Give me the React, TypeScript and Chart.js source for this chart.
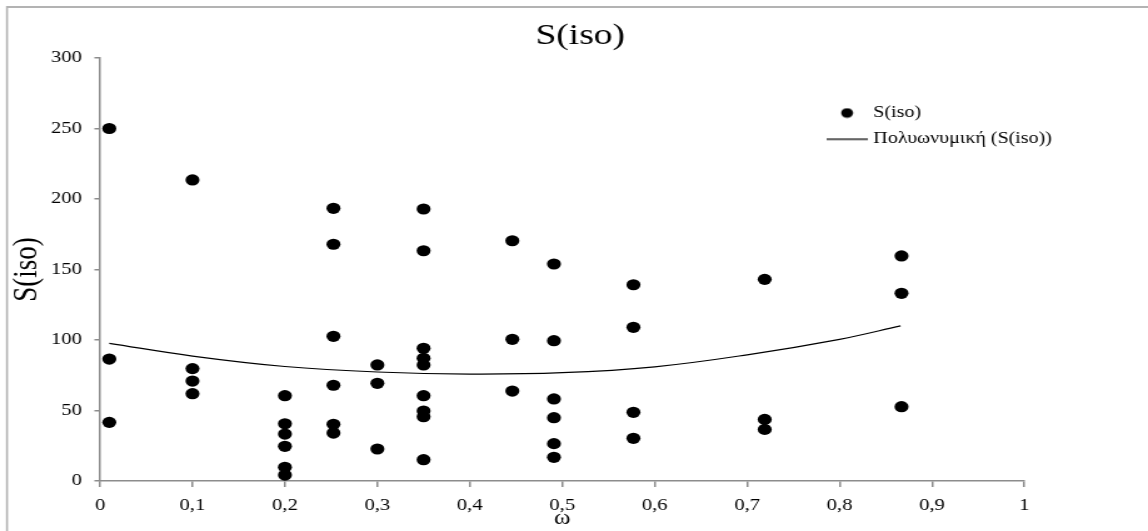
import React, { useEffect, useRef } from 'react';
import { Chart, registerables } from 'chart.js';

Chart.register(...registerables);

// ---- data ----
const omegaValues = [
  0.01, 0.01, 0.01,
  0.1, 0.1, 0.1, 0.1,
  0.2, 0.2, 0.2, 0.2, 0.2, 0.2,
  0.2525, 0.2525, 0.2525, 0.2525, 0.2525, 0.2525,
  0.3, 0.3, 0.3,
  0.35, 0.35, 0.35, 0.35, 0.35, 0.35, 0.35, 0.35, 0.35,
  0.446, 0.446, 0.446,
  0.491, 0.491, 0.491, 0.491, 0.491, 0.491,
  0.577, 0.577, 0.577, 0.577,
  0.719, 0.719, 0.719,
  0.867, 0.867, 0.867,
];
const sIsoValues = [
  250, 86.5, 41.6,
  213.5, 79.7, 70.9, 61.9,
  60.5, 40.6, 33.3, 24.6, 9.7, 4.2,
  193.4, 167.9, 102.6, 67.9, 40.2, 34,
  82.3, 69.3, 22.7,
  192.9, 163.3, 94.1, 87, 82.3, 60.5, 49.6, 45.6, 15.1,
  170.4, 100.5, 63.8,
  153.9, 99.5, 58.2, 44.9, 26.5, 16.8,
  139.2, 109, 48.7, 30.3,
  143, 43.7, 36.6,
  159.6, 133.1, 52.7,
];
// polynomial trend line
const trendOmega = [0.01, 0.1, 0.2, 0.3, 0.4, 0.5, 0.6, 0.7, 0.8, 0.866];
const trendS = [97.6, 88.6, 81.2, 77.3, 75.8, 76.8, 81, 89.5, 100.5, 110];

const xTickLabels = ['0', '0,1', '0,2', '0,3', '0,4', '0,5', '0,6', '0,7', '0,8', '0,9', '1'];
const yTickLabels = ['0', '50', '100', '150', '200', '250', '300'];

const chartTitle = 'S(iso)';
const xTitle = 'ω';
const yTitle = 'S(iso)';
const seriesLabel = 'S(iso)';
const trendLabel = 'Πολυωνυμική (S(iso))';

// ---- geometry ----
const W = 1148;
const H = 531;
const STRETCH = 1.25; // the reference is drawn horizontally stretched
const IW = Math.round(W / STRETCH);
const sx = (px: number) => px / STRETCH; // screen x -> canvas x

const FONT = "'Liberation Serif', 'Times New Roman', Times, serif";

export default function App() {
  const ref = useRef<HTMLCanvasElement>(null);

  useEffect(() => {
    const canvas = ref.current;
    if (!canvas) return;

    const dot = document.createElement('canvas');
    dot.width = 11;
    dot.height = 11;
    {
      const c = dot.getContext('2d')!;
      c.fillStyle = '#000';
      c.beginPath();
      c.arc(5.5, 5.5, 4.8, 0, Math.PI * 2);
      c.fill();
    }
    const seg = document.createElement('canvas');
    seg.width = Math.round(sx(41));
    seg.height = 3;
    {
      const c = seg.getContext('2d')!;
      c.fillStyle = '#000';
      c.fillRect(0, 1, seg.width, 1.2);
    }

    const points = omegaValues.map((x, i) => ({ x, y: sIsoValues[i] }));
    const trend = trendOmega.map((x, i) => ({ x, y: trendS[i] }));

    const chartLeft = sx(100);
    const chartRight = sx(1024);

    const layoutPlugin = {
      id: 'layoutTweaks',
      afterLayout(chart: any) {
        const lg = chart.legend;
        if (lg) {
          const pad = 10;
          const boxW = 26;
          const centerX = sx(846.7);
          lg.left = centerX - boxW / 2 - pad;
          lg.top = 113 - 8 - pad;
          lg.right = lg.left + lg.width;
          lg.bottom = lg.top + lg.height;
        }
        const tb = chart.titleBlock;
        if (tb) {
          const c = sx(580);
          tb.left = 0;
          tb.right = 2 * c;
        }
      },
      beforeDraw(chart: any) {
        const ctx = chart.ctx;
        ctx.save();
        ctx.strokeStyle = '#b3b3b3';
        ctx.lineWidth = 2;
        ctx.beginPath();
        ctx.moveTo(sx(7), 7);
        ctx.lineTo(IW + 2, 7);
        ctx.stroke();
        ctx.lineWidth = 1.6;
        ctx.beginPath();
        ctx.moveTo(sx(7), 6);
        ctx.lineTo(sx(7), H + 2);
        ctx.stroke();
        ctx.restore();
      },
    };

    const chart = new Chart(canvas, {
      type: 'scatter',
      data: {
        datasets: [
          {
            label: seriesLabel,
            data: points,
            backgroundColor: '#000',
            borderColor: '#000',
            borderWidth: 0,
            pointRadius: 5.6,
            pointHoverRadius: 5.6,
            clip: false,
          } as any,
          {
            type: 'line',
            label: trendLabel,
            data: trend,
            borderColor: '#000',
            borderWidth: 1.2,
            pointRadius: 0,
            pointHoverRadius: 0,
            tension: 0.4,
            fill: false,
            showLine: true,
          } as any,
        ],
      },
      options: {
        animation: false,
        responsive: false,
        devicePixelRatio: 1,
        events: [],
        layout: { padding: { left: 0, top: 0, right: IW - chartRight, bottom: 0 } },
        font: { family: FONT },
        color: '#000',
        plugins: {
          tooltip: { enabled: false },
          title: {
            display: true,
            text: chartTitle,
            color: '#000',
            font: { family: FONT, size: 30, weight: 'normal' },
            padding: { top: 18.5, bottom: 3.5 },
          },
          legend: {
            display: true,
            position: 'chartArea' as any,
            align: 'start',
            labels: {
              usePointStyle: true,
              pointStyleWidth: 26,
              boxHeight: 16,
              padding: 10,
              color: '#000',
              font: { family: FONT, size: 16 },
              generateLabels: () => [
                {
                  text: seriesLabel,
                  fillStyle: '#000',
                  strokeStyle: '#000',
                  lineWidth: 0,
                  pointStyle: dot as any,
                  hidden: false,
                  datasetIndex: 0,
                },
                {
                  text: trendLabel,
                  fillStyle: '#000',
                  strokeStyle: '#000',
                  lineWidth: 0,
                  pointStyle: seg as any,
                  hidden: false,
                  datasetIndex: 1,
                },
              ],
            },
          },
        },
        scales: {
          x: {
            type: 'linear',
            position: 'bottom',
            min: 0,
            max: 1,
            afterFit: (s: any) => {
              s.height = 50;
            },
            ticks: {
              stepSize: 0.1,
              color: '#000',
              padding: 9,
              maxRotation: 0,
              autoSkip: false,
              font: { family: FONT, size: 16.5 },
              callback: (_v: any, i: number) => xTickLabels[i],
            },
            grid: {
              display: true,
              drawOnChartArea: false,
              drawTicks: true,
              tickLength: 6,
              color: '#8c8c8c',
              lineWidth: 1.5,
            },
            border: { display: true, color: '#8c8c8c', width: 1.5 },
            title: {
              display: true,
              text: xTitle,
              color: '#000',
              font: { family: FONT, size: 20 },
              padding: { top: 0, bottom: 0 },
            },
          },
          y: {
            type: 'linear',
            position: 'left',
            min: 0,
            max: 300,
            afterFit: (s: any) => {
              s.width = chartLeft;
            },
            ticks: {
              stepSize: 50,
              color: '#000',
              padding: 10,
              font: { family: FONT, size: 16.5 },
              callback: (_v: any, i: number) => yTickLabels[i],
            },
            grid: {
              display: true,
              drawOnChartArea: false,
              drawTicks: true,
              tickLength: 4.5,
              color: '#8c8c8c',
              lineWidth: 1.5,
            },
            border: { display: true, color: '#8c8c8c', width: 1.5 },
            title: {
              display: true,
              text: yTitle,
              color: '#000',
              font: { family: FONT, size: 27 },
              padding: { top: 6, bottom: 0 },
            },
          },
        },
      } as any,
      plugins: [layoutPlugin as any],
    });

    return () => chart.destroy();
  }, []);

  return (
    <div style={{ position: 'absolute', left: 0, top: 0, width: W, height: H, background: '#fff' }}>
      <canvas
        ref={ref}
        width={IW}
        height={H}
        style={{ width: W + 'px', height: H + 'px', display: 'block' }}
      />
    </div>
  );
}
